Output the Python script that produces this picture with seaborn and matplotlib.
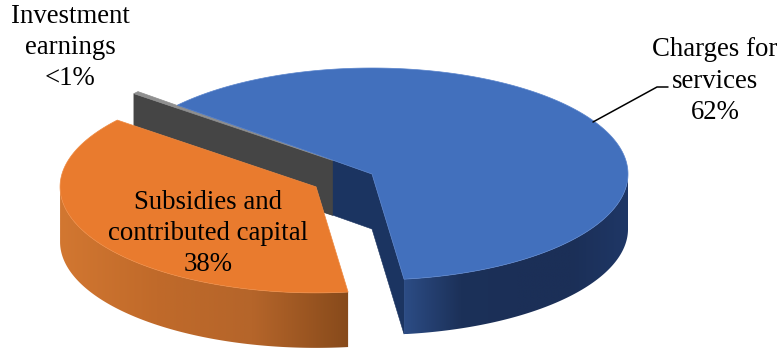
import numpy as np
import matplotlib
matplotlib.use("Agg")
import matplotlib.pyplot as plt
from matplotlib.colors import to_rgb
from matplotlib.patches import Polygon
import seaborn as sns

# Revenue shares, clockwise from the first slice
slice_names = ["Charges for\nservices\n62%", "Subsidies and\ncontributed capital\n38%", "Investment\nearnings\n<1%"]
slice_values = [62, 38, 0.4]
slice_explode = [0.0, 0.25, 0.2]
top_colors = ["#4270BD", "#E97B2E", "#8F8F8F"]
cut_colors = ["#1B3461", "#C96F2B", "#454545"]
wall_ramps = [["#2C4C85", "#1C3159", "#1B2F57", "#1B2F57", "#1F3766"],
              ["#D27731", "#C06A2A", "#B5652A", "#874A1B"],
              ["#454545", "#454545"]]

sns.set_theme(style="white")
plt.rcParams["font.family"] = ["Liberation Serif", "DejaVu Serif"]

CX, CY, RX, RY, DEPTH = 372.0, 174.0, 256.0, 106.0, 55.0
START = 139.5

fig, ax = plt.subplots(figsize=(7.83, 3.52), dpi=100)
fig.subplots_adjust(0, 0, 1, 1)
ax.axis("off")


def rim(t, apex):
    t = np.radians(t)
    return np.column_stack([apex[0] + RX * np.cos(t), apex[1] - RY * np.sin(t)])


def cut_face(apex, t, color, z):
    p = rim(t, apex)[0]
    quad = [apex, p, p + [0, DEPTH], np.array(apex) + [0, DEPTH]]
    ax.add_patch(Polygon(quad, closed=True, fc=color, ec=color, lw=0.4, zorder=z))


spans = 360 * np.array(slice_values) / np.sum(slice_values)
starts = START - np.concatenate([[0], np.cumsum(spans)[:-1]])
ends = starts - spans

apexes = []
for s, e, k in zip(starts, ends, slice_explode):
    mid = np.radians((s + e) / 2)
    apexes.append(np.array([CX + k * RX * np.cos(mid), CY - k * RY * np.sin(mid)]))


def front_wall(i, t0, t1, z):
    # Horizontal shading clipped to the curved outer wall of a slice
    pts = rim(np.linspace(t0, t1, 240), apexes[i])
    outline = np.vstack([pts, (pts + [0, DEPTH])[::-1]])
    clip = Polygon(outline, closed=True, transform=ax.transData, fc="none", ec="none")
    ax.add_patch(clip)
    x0, x1 = outline[:, 0].min(), outline[:, 0].max()
    y0, y1 = outline[:, 1].min(), outline[:, 1].max()
    ramp = np.array([to_rgb(c) for c in sns.blend_palette(wall_ramps[i], n_colors=256)])[None, :, :]
    img = ax.imshow(ramp, extent=(x0, x1, y1, y0), aspect="auto", interpolation="bilinear", zorder=z)
    img.set_clip_path(clip)


# Blue slice: far cut face first
cut_face(apexes[0], starts[0], cut_colors[0], 1)

# Grey sliver: its one visible cut face and a thin top
cut_face(apexes[2], starts[2], cut_colors[2], 2)
tt = np.linspace(starts[2], ends[2], 6)
ax.add_patch(Polygon(np.vstack([apexes[2], rim(tt, apexes[2])]), closed=True,
                     fc=top_colors[2], ec=top_colors[2], lw=0.5, zorder=2.1))

# Blue slice: near cut face, front wall, top
cut_face(apexes[0], ends[0], cut_colors[0], 3)
front_wall(0, ends[0], 0, 3.5)
ts = np.linspace(starts[0], ends[0], 300)
ax.add_patch(Polygon(np.vstack([apexes[0], rim(ts, apexes[0])]), closed=True,
                     fc=top_colors[0], ec="#5A84CC", lw=0.5, zorder=4))

# Orange slice sits in front of everything else
front_wall(1, -180, starts[1], 5)
ts = np.linspace(starts[1], ends[1], 200)
ax.add_patch(Polygon(np.vstack([apexes[1], rim(ts, apexes[1])]), closed=True,
                     fc=top_colors[1], ec="#EE8A42", lw=0.5, zorder=6))

# Labels and leader line
text_kw = dict(ha="center", va="center", fontsize=19.3, color="black", linespacing=1.33, zorder=8)
ax.text(715, 81, slice_names[0], **text_kw)
ax.text(208, 233.5, slice_names[1], **text_kw)
ax.text(70, 47.5, slice_names[2], **text_kw)
leader_x = [593, 657, 668]
leader_y = [122, 87, 87]
ax.plot(leader_x, leader_y, color="black", lw=1.1, zorder=7)

ax.set_xlim(0, 783)
ax.set_ylim(352, 0)

fig.savefig("out.png", dpi=100)
